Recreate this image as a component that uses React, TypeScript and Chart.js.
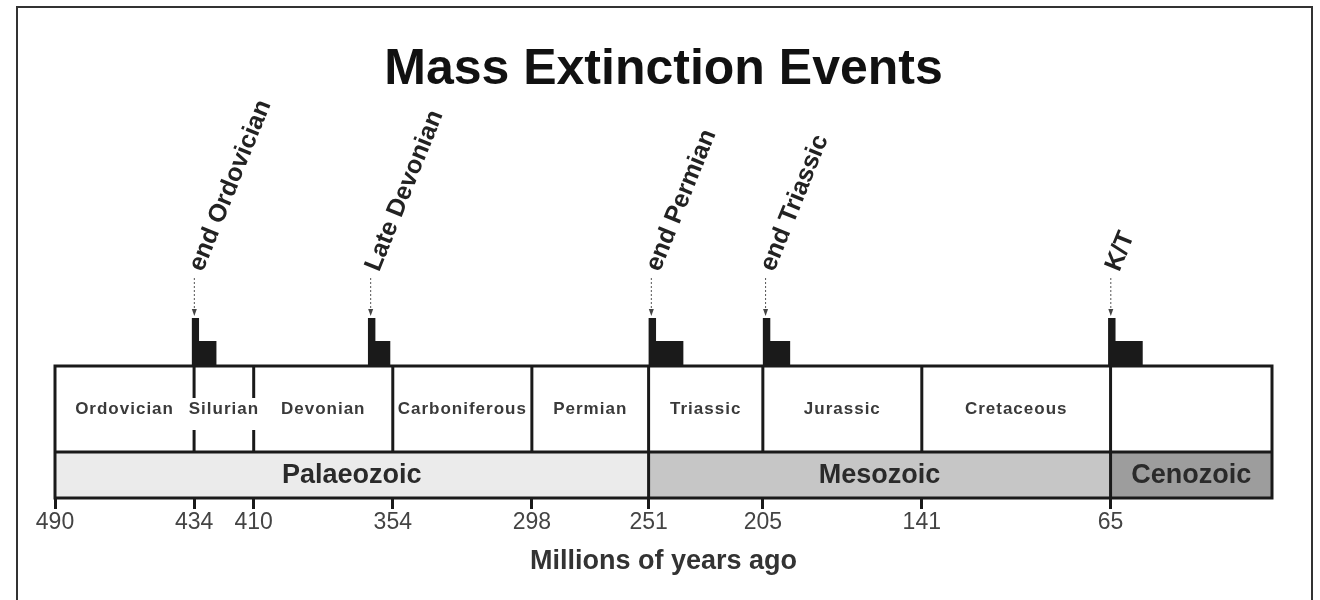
import React, { useEffect, useRef } from 'react';
import { Chart, registerables } from 'chart.js';

Chart.register(...registerables);

// ---- data ----
const tickValues = [490, 434, 410, 354, 298, 251, 205, 141, 65];

const periodNames = ['Ordovician', 'Silurian', 'Devonian', 'Carboniferous', 'Permian', 'Triassic', 'Jurassic', 'Cretaceous', ''];
const periodStart = [490, 434, 410, 354, 298, 251, 205, 141, 65];
const periodEnd = [434, 410, 354, 298, 251, 205, 141, 65, 0];
const dashedBoundaries = [434, 410];

const eraNames = ['Palaeozoic', 'Mesozoic', 'Cenozoic'];
const eraStart = [490, 251, 65];
const eraEnd = [251, 65, 0];
const eraColors = ['#ebebeb', '#c6c6c6', '#9d9d9d'];

const eventNames = ['end Ordovician', 'Late Devonian', 'end Permian', 'end Triassic', 'K/T'];
const eventStart = [435, 364, 251, 205, 66];
const eventPeakEnd = [432, 361, 248, 202, 63];
const eventTailEnd = [425, 355, 237, 194, 52];
const eventPeak = [48, 48, 48, 48, 48];
const eventTail = [25, 25, 25, 25, 25];

// ---- layout (vertical units of the hidden y scale) ----
const Y_MAX = 398;
const ERA_TOP = 46;
const PERIOD_TOP = 132;
const GAP_LOW = 68;
const GAP_HIGH = 100;
const ARROW_TAIL = 220;
const ARROW_TIP = 182;
const LABEL_BASE = 228;

const FONT = "'Liberation Sans', Arial, Helvetica, sans-serif";
const LINE = '#1a1a1a';

const extinctionPoints: { x: number; y: number }[] = [];
eventStart.forEach((s, i) => {
  extinctionPoints.push({ x: s, y: PERIOD_TOP + eventPeak[i] });
  extinctionPoints.push({ x: eventPeakEnd[i], y: PERIOD_TOP + eventTail[i] });
  extinctionPoints.push({ x: eventTailEnd[i], y: PERIOD_TOP });
});

const timelinePlugin = {
  id: 'timeline',
  beforeDraw(chart: any) {
    const ctx = chart.ctx;
    ctx.save();
    ctx.fillStyle = '#ffffff';
    ctx.fillRect(0, 0, chart.width, chart.height);
    ctx.strokeStyle = '#333333';
    ctx.lineWidth = 2;
    ctx.strokeRect(17, 7, 1295, 640);
    ctx.restore();
  },
  afterDatasetsDraw(chart: any) {
    const ctx = chart.ctx;
    const xs = chart.scales.x;
    const ys = chart.scales.y;
    const X = (v: number) => xs.getPixelForValue(v);
    const Y = (v: number) => ys.getPixelForValue(v);
    ctx.save();
    ctx.strokeStyle = LINE;
    ctx.lineWidth = 3;
    ctx.lineCap = 'butt';

    // outer box
    const left = X(490);
    const right = X(0);
    ctx.strokeRect(left, Y(PERIOD_TOP), right - left, Y(0) - Y(PERIOD_TOP));
    // era / period separator
    ctx.beginPath();
    ctx.moveTo(left, Y(ERA_TOP));
    ctx.lineTo(right, Y(ERA_TOP));
    ctx.stroke();

    // period boundaries
    periodStart.forEach((s) => {
      if (s === 490) return;
      const px = X(s);
      ctx.beginPath();
      if (dashedBoundaries.includes(s)) {
        ctx.moveTo(px, Y(PERIOD_TOP));
        ctx.lineTo(px, Y(GAP_HIGH));
        ctx.moveTo(px, Y(GAP_LOW));
        ctx.lineTo(px, Y(ERA_TOP));
      } else {
        ctx.moveTo(px, Y(PERIOD_TOP));
        ctx.lineTo(px, Y(ERA_TOP));
      }
      ctx.stroke();
    });
    // era boundaries
    eraStart.forEach((s) => {
      if (s === 490) return;
      const px = X(s);
      ctx.beginPath();
      ctx.moveTo(px, Y(ERA_TOP));
      ctx.lineTo(px, Y(0));
      ctx.stroke();
    });

    // period labels
    ctx.fillStyle = '#3a3a3a';
    ctx.font = `bold 17px ${FONT}`;
    (ctx as any).letterSpacing = '1px';
    ctx.textAlign = 'center';
    ctx.textBaseline = 'middle';
    periodNames.forEach((n, i) => {
      if (!n) return;
      ctx.fillText(n, (X(periodStart[i]) + X(periodEnd[i])) / 2, Y((PERIOD_TOP + ERA_TOP) / 2));
    });
    (ctx as any).letterSpacing = '0px';

    // era labels
    ctx.fillStyle = '#2a2a2a';
    ctx.font = `bold 27px ${FONT}`;
    eraNames.forEach((n, i) => {
      ctx.fillText(n, (X(eraStart[i]) + X(eraEnd[i])) / 2, Y(ERA_TOP / 2) + 1);
    });

    // event arrows and labels
    eventNames.forEach((n, i) => {
      const ax = X((eventStart[i] + eventPeakEnd[i]) / 2) - 1;
      ctx.strokeStyle = '#555555';
      ctx.lineWidth = 1;
      ctx.setLineDash([2, 2]);
      ctx.beginPath();
      ctx.moveTo(ax, Y(ARROW_TAIL));
      ctx.lineTo(ax, Y(ARROW_TIP) - 6);
      ctx.stroke();
      ctx.setLineDash([]);
      ctx.fillStyle = '#444444';
      ctx.beginPath();
      ctx.moveTo(ax - 2.5, Y(ARROW_TIP) - 7);
      ctx.lineTo(ax + 2.5, Y(ARROW_TIP) - 7);
      ctx.lineTo(ax, Y(ARROW_TIP));
      ctx.closePath();
      ctx.fill();

      ctx.save();
      ctx.translate(ax + 2, Y(LABEL_BASE));
      ctx.rotate((-68 * Math.PI) / 180);
      ctx.fillStyle = '#222222';
      ctx.font = `bold 25px ${FONT}`;
      ctx.textAlign = 'left';
      ctx.textBaseline = 'middle';
      ctx.fillText(n, 0, 0);
      ctx.restore();
    });
    ctx.restore();
  },
};

export default function App() {
  const ref = useRef<HTMLCanvasElement | null>(null);
  useEffect(() => {
    document.body.style.margin = '0';
    if (!ref.current) return;
    const datasets: any[] = eraNames.map((n, i) => ({
      label: n,
      type: 'line',
      data: [
        { x: eraStart[i], y: ERA_TOP },
        { x: eraEnd[i], y: ERA_TOP },
      ],
      fill: 'origin',
      backgroundColor: eraColors[i],
      borderWidth: 0,
      pointRadius: 0,
    }));
    datasets.push({
      label: 'Extinction intensity',
      type: 'line',
      data: extinctionPoints,
      stepped: 'before',
      fill: { value: PERIOD_TOP },
      backgroundColor: '#1a1a1a',
      borderWidth: 0,
      pointRadius: 0,
    });
    const chart = new Chart(ref.current, {
      type: 'line',
      data: { datasets },
      options: {
        animation: false,
        responsive: false,
        devicePixelRatio: 1,
        layout: { padding: { left: 55, right: 48, top: 0, bottom: 18 } },
        plugins: {
          legend: { display: false },
          tooltip: { enabled: false },
          title: {
            display: true,
            text: 'Mass Extinction Events',
            color: '#111111',
            font: { family: FONT, size: 50, weight: 'bold' },
            padding: { top: 40, bottom: 0 },
          },
        },
        scales: {
          x: {
            type: 'linear',
            reverse: true,
            min: 0,
            max: 490,
            position: 'bottom',
            afterBuildTicks: (scale: any) => {
              scale.ticks = tickValues.map((v) => ({ value: v }));
            },
            ticks: {
              padding: 0,
              color: '#444444',
              font: { family: FONT, size: 23 },
              maxRotation: 0,
              autoSkip: false,
            },
            grid: {
              display: true,
              drawOnChartArea: false,
              drawTicks: true,
              tickLength: 11,
              tickWidth: 3,
              tickColor: LINE,
            },
            border: { display: false },
            title: {
              display: true,
              text: 'Millions of years ago',
              color: '#333333',
              font: { family: FONT, size: 27, weight: 'bold' },
              padding: { top: 9, bottom: 4 },
            },
          },
          y: {
            type: 'linear',
            display: false,
            min: 0,
            max: Y_MAX,
          },
        },
      },
      plugins: [timelinePlugin],
    } as any);
    return () => chart.destroy();
  }, []);
  return (
    <div style={{ width: 1320, height: 600 }}>
      <canvas ref={ref} width={1320} height={600} />
    </div>
  );
}
